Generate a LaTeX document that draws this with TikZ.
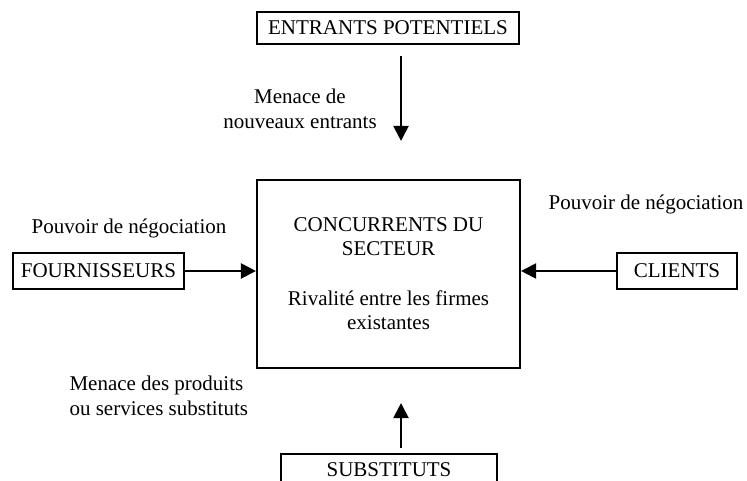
\documentclass[tikz,border=0pt]{standalone}
\usepackage{fontspec}
\setmainfont{Liberation Serif}
\usetikzlibrary{calc, arrows.meta}

\begin{document}
\begin{tikzpicture}[x=1pt, y=-1pt,
    box/.style={draw, line width=2.1pt, inner sep=0pt, font=\fontsize{21}{24}\selectfont},
    lbl/.style={align=center, font=\fontsize{21}{25}\selectfont},
    arr/.style={-{Triangle[length=15pt, width=15pt]}, line width=2.1pt}]
    \clip (0,0) rectangle (747,481);

    \node (CONC) at (388.5,274) [box, minimum width=263pt, minimum height=188pt, align=center]
        {CONCURRENTS DU\\SECTEUR\\[26pt]Rivalité entre les firmes\\existantes};
    \node (ENTR) at (388,28) [box, minimum width=262pt, minimum height=32pt] {ENTRANTS POTENTIELS};
    \node (FOUR) at (98.5,271) [box, minimum width=171pt, minimum height=36pt] {FOURNISSEURS};
    \node (CLIE) at (677,271) [box, minimum width=120pt, minimum height=36pt] {CLIENTS};
    \node (SUBS) at (389,470) [box, minimum width=216pt, minimum height=32pt] {SUBSTITUTS};

    \coordinate (ENTRtail) at ($(ENTR.south)+(13,11)$);
    \coordinate (ENTRtip) at ($(CONC.north)+(12.5,-38)$);
    \coordinate (SUBStail) at ($(SUBS.north)+(12,-5)$);
    \coordinate (SUBStip) at ($(CONC.south)+(12.5,34)$);

    \draw[arr] (ENTRtail) -- (ENTRtip);
    \draw[arr] (SUBStail) -- (SUBStip);
    \draw[arr] (FOUR.east) -- (FOUR.east -| CONC.west);
    \draw[arr] (CLIE.west) -- (CLIE.west -| CONC.east);

    \node (MENAe) at (300,109) [lbl] {Menace de\\nouveaux entrants};
    \node (POUVf) at (129,228) [lbl] {Pouvoir de négociation};
    \node (POUVc) at (646,204) [lbl] {Pouvoir de négociation};
    \node (MENAs) at (66,396) [lbl, anchor=west, align=left] {Menace des produits\\ou services substituts};
\end{tikzpicture}
\end{document}
